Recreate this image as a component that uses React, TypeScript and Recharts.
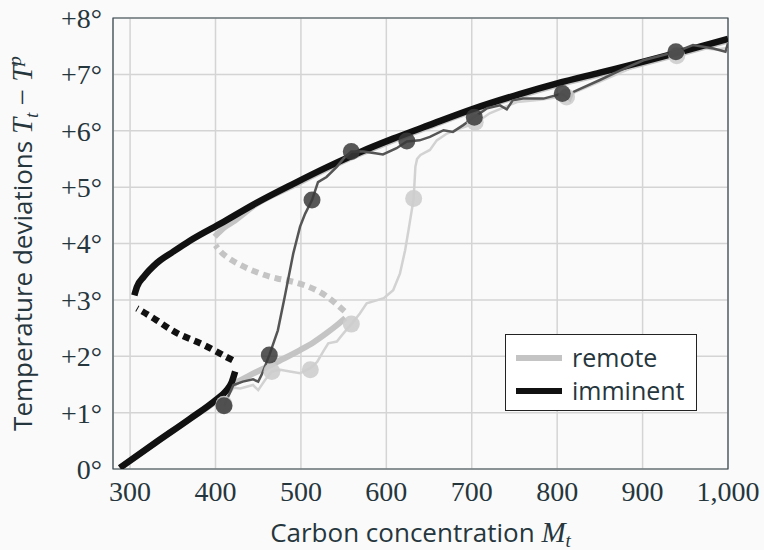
import React from 'react';
import { ComposedChart, Line, XAxis, YAxis, CartesianGrid, ReferenceArea, Legend, Label } from 'recharts';

type Pt = { x: number; y: number };

const ink = '#26363d';
const serif = '"Liberation Serif", serif';
const sans = '"Open Sans", sans-serif';

const xTicks = [300, 400, 500, 600, 700, 800, 900, 1000];
const yTicks = [0, 1, 2, 3, 4, 5, 6, 7, 8];
const legendItems = [
  { label: 'remote', color: '#c4c4c4' },
  { label: 'imminent', color: '#111111' },
];

// equilibrium curves, imminent (black)
const imminentLower: Pt[] = [
  { x: 288, y: 0.02 }, { x: 330, y: 0.47 }, { x: 370, y: 0.89 }, { x: 400, y: 1.22 },
  { x: 412, y: 1.38 }, { x: 419, y: 1.54 }, { x: 423, y: 1.73 },
];
const imminentUnstable: Pt[] = [
  { x: 420, y: 1.93 }, { x: 405, y: 2.05 }, { x: 382, y: 2.23 }, { x: 355, y: 2.41 },
  { x: 331, y: 2.64 }, { x: 308, y: 2.85 },
];
const imminentUpper: Pt[] = [
  { x: 305, y: 3.08 }, { x: 308, y: 3.23 }, { x: 316, y: 3.41 }, { x: 331, y: 3.65 },
  { x: 351, y: 3.86 }, { x: 370, y: 4.05 }, { x: 409, y: 4.38 }, { x: 448, y: 4.72 },
  { x: 490, y: 5.05 }, { x: 530, y: 5.35 }, { x: 569, y: 5.62 }, { x: 608, y: 5.86 },
  { x: 650, y: 6.1 }, { x: 700, y: 6.38 }, { x: 756, y: 6.65 }, { x: 800, y: 6.84 },
  { x: 850, y: 7.03 }, { x: 900, y: 7.22 }, { x: 950, y: 7.42 }, { x: 1000, y: 7.63 },
];

// equilibrium curves, remote (grey)
const remoteLower: Pt[] = [
  { x: 288, y: 0.02 }, { x: 330, y: 0.47 }, { x: 370, y: 0.89 }, { x: 400, y: 1.2 },
  { x: 421, y: 1.5 }, { x: 440, y: 1.66 }, { x: 460, y: 1.81 }, { x: 480, y: 1.96 },
  { x: 499, y: 2.11 }, { x: 515, y: 2.25 }, { x: 530, y: 2.41 }, { x: 542, y: 2.55 },
  { x: 552, y: 2.68 },
];
const remoteUnstable: Pt[] = [
  { x: 551, y: 2.8 }, { x: 522, y: 3.14 }, { x: 491, y: 3.32 }, { x: 472, y: 3.38 },
  { x: 452, y: 3.47 }, { x: 429, y: 3.62 }, { x: 410, y: 3.8 }, { x: 400, y: 3.97 },
];
const remoteUpper: Pt[] = [
  { x: 399, y: 4.12 }, { x: 410, y: 4.28 }, { x: 420, y: 4.38 }, { x: 448, y: 4.7 },
  { x: 490, y: 5.02 }, { x: 530, y: 5.32 }, { x: 569, y: 5.59 }, { x: 608, y: 5.83 },
  { x: 650, y: 6.07 }, { x: 700, y: 6.35 }, { x: 756, y: 6.62 }, { x: 800, y: 6.81 },
  { x: 850, y: 7.0 }, { x: 900, y: 7.19 }, { x: 950, y: 7.39 }, { x: 1000, y: 7.6 },
];

// simulated paths
const imminentPath: Pt[] = [
  { x: 410, y: 1.12 }, { x: 421, y: 1.49 }, { x: 432, y: 1.55 }, { x: 444, y: 1.59 },
  { x: 450, y: 1.55 }, { x: 454, y: 1.67 }, { x: 463, y: 2.02 }, { x: 473, y: 2.46 },
  { x: 481, y: 3.05 }, { x: 491, y: 3.82 }, { x: 499, y: 4.3 }, { x: 505, y: 4.53 },
  { x: 513, y: 4.77 }, { x: 520, y: 5.09 }, { x: 530, y: 5.18 }, { x: 542, y: 5.36 },
  { x: 550, y: 5.51 }, { x: 559, y: 5.63 }, { x: 573, y: 5.63 }, { x: 587, y: 5.6 },
  { x: 596, y: 5.58 }, { x: 612, y: 5.69 }, { x: 624, y: 5.81 }, { x: 639, y: 5.83 },
  { x: 651, y: 5.89 }, { x: 667, y: 6.01 }, { x: 678, y: 5.98 }, { x: 690, y: 6.1 },
  { x: 703, y: 6.24 }, { x: 718, y: 6.4 }, { x: 733, y: 6.45 }, { x: 741, y: 6.38 },
  { x: 748, y: 6.54 }, { x: 760, y: 6.57 }, { x: 784, y: 6.57 }, { x: 806, y: 6.66 },
  { x: 815, y: 6.54 }, { x: 819, y: 6.69 }, { x: 850, y: 6.9 }, { x: 874, y: 7.07 },
  { x: 901, y: 7.25 }, { x: 939, y: 7.4 }, { x: 959, y: 7.52 }, { x: 983, y: 7.46 },
  { x: 997, y: 7.4 }, { x: 1000, y: 7.55 },
];
const imminentDots: Pt[] = [
  { x: 410, y: 1.12 }, { x: 463, y: 2.02 }, { x: 513, y: 4.77 }, { x: 559, y: 5.63 },
  { x: 624, y: 5.82 }, { x: 703, y: 6.24 }, { x: 806, y: 6.66 }, { x: 939, y: 7.4 },
];
const remotePath: Pt[] = [
  { x: 410, y: 1.2 }, { x: 421, y: 1.44 }, { x: 429, y: 1.43 }, { x: 444, y: 1.49 },
  { x: 450, y: 1.4 }, { x: 458, y: 1.58 }, { x: 466, y: 1.73 }, { x: 476, y: 1.76 },
  { x: 487, y: 1.73 }, { x: 499, y: 1.7 }, { x: 511, y: 1.79 }, { x: 519, y: 1.9 },
  { x: 526, y: 2.08 }, { x: 532, y: 2.23 }, { x: 542, y: 2.26 }, { x: 550, y: 2.41 },
  { x: 559, y: 2.57 }, { x: 569, y: 2.76 }, { x: 577, y: 2.94 }, { x: 597, y: 3.03 },
  { x: 608, y: 3.17 }, { x: 616, y: 3.47 }, { x: 622, y: 3.88 }, { x: 626, y: 4.24 },
  { x: 632, y: 4.8 }, { x: 634, y: 5.36 }, { x: 636, y: 5.5 }, { x: 640, y: 5.57 },
  { x: 651, y: 5.66 }, { x: 659, y: 5.83 }, { x: 671, y: 5.95 }, { x: 686, y: 6.04 },
  { x: 704, y: 6.13 }, { x: 721, y: 6.31 }, { x: 753, y: 6.51 }, { x: 780, y: 6.55 },
  { x: 811, y: 6.62 }, { x: 850, y: 6.87 }, { x: 900, y: 7.2 }, { x: 940, y: 7.33 },
  { x: 960, y: 7.48 }, { x: 985, y: 7.44 }, { x: 1000, y: 7.47 },
];
const remoteDots: Pt[] = [
  { x: 410, y: 1.15 }, { x: 466, y: 1.73 }, { x: 511, y: 1.76 }, { x: 559, y: 2.57 },
  { x: 632, y: 4.8 }, { x: 704, y: 6.15 }, { x: 811, y: 6.6 }, { x: 940, y: 7.33 },
];

const fmtX = (v: number) => v.toLocaleString('en-US');
const fmtY = (v: number) => (v > 0 ? '+' : '') + v + '°';

const XLabel = ({ viewBox }: any) => {
  const cx = viewBox.x + viewBox.width / 2;
  return (
    <text x={cx} y={542} textAnchor="middle" fontFamily={sans} fontSize={26} fill={ink}>
      Carbon concentration{' '}
      <tspan fontFamily={serif} fontStyle="italic" fontSize={29}>M</tspan>
      <tspan fontFamily={serif} fontStyle="italic" fontSize={19} dy={5}>t</tspan>
    </text>
  );
};

const YLabel = ({ viewBox }: any) => {
  const cy = viewBox.y + viewBox.height / 2;
  const cx = 32;
  return (
    <text x={cx} y={cy} transform={`rotate(-90 ${cx} ${cy})`} textAnchor="middle" fontFamily={sans} fontSize={26} fill={ink}>
      Temperature deviations{' '}
      <tspan fontFamily={serif} fontStyle="italic" fontSize={29}>T</tspan>
      <tspan fontFamily={serif} fontStyle="italic" fontSize={19} dy={6}>t</tspan>
      <tspan fontFamily={serif} fontSize={29} dy={-6}> − </tspan>
      <tspan fontFamily={serif} fontStyle="italic" fontSize={29}>T</tspan>
      <tspan fontFamily={serif} fontStyle="italic" fontSize={19} dy={-11}>p</tspan>
    </text>
  );
};

const LegendBox = () => (
  <div style={{ border: '1.5px solid #222', background: '#fff', boxSizing: 'border-box', width: 192, height: 77, padding: '6px 0 0 10px' }}>
    {legendItems.map((item) => (
      <div key={item.label} style={{ display: 'flex', alignItems: 'center', height: 33 }}>
        <div style={{ width: 46, height: 6, background: item.color, marginRight: 10 }} />
        <span style={{ fontFamily: sans, fontSize: 25, color: ink, lineHeight: '33px' }}>{item.label}</span>
      </div>
    ))}
  </div>
);

export default function App() {
  return (
    <div style={{ position: 'absolute', left: 0, top: 0, width: 764, height: 550, background: '#fafafa' }}>
      <ComposedChart width={764} height={550} margin={{ top: 18, right: 36, bottom: 0, left: 0 }}>
        <CartesianGrid stroke="#d4d4d4" strokeWidth={1.5} />
        <XAxis
          dataKey="x"
          type="number"
          domain={[280, 1000]}
          ticks={xTicks}
          allowDataOverflow
          height={81}
          tickLine={false}
          axisLine={false}
          tickMargin={6}
          tickFormatter={fmtX}
          tick={{ fontFamily: serif, fontSize: 28, fill: ink }}
        >
          <Label content={XLabel} />
        </XAxis>
        <YAxis
          type="number"
          domain={[0, 8]}
          ticks={yTicks}
          allowDataOverflow
          width={113}
          tickLine={false}
          axisLine={false}
          tickMargin={5}
          tickFormatter={fmtY}
          tick={{ fontFamily: serif, fontSize: 28, fill: ink }}
        >
          <Label content={YLabel} />
        </YAxis>
        <ReferenceArea x1={280} x2={1000} y1={0} y2={8} fill="none" stroke="#37474f" strokeWidth={1.2} />

        <Line data={remoteLower} dataKey="y" type="monotone" stroke="#c4c4c4" strokeWidth={6} dot={false} activeDot={false} isAnimationActive={false} legendType="none" />
        <Line data={remoteUnstable} dataKey="y" type="natural" stroke="#c4c4c4" strokeWidth={6} strokeDasharray="7 5" dot={false} activeDot={false} isAnimationActive={false} legendType="none" />
        <Line data={remoteUpper} dataKey="y" type="monotone" stroke="#c4c4c4" strokeWidth={6} dot={false} activeDot={false} isAnimationActive={false} legendType="none" />

        <Line data={remotePath} dataKey="y" type="linear" stroke="#d2d2d2" strokeWidth={2.5} dot={false} activeDot={false} isAnimationActive={false} legendType="none" />
        <Line data={remoteDots} dataKey="y" stroke="none" dot={{ r: 8.5, fill: '#cdcdcd', fillOpacity: 0.9, stroke: 'none' }} activeDot={false} isAnimationActive={false} legendType="none" />

        <Line data={imminentLower} dataKey="y" type="monotone" stroke="#111" strokeWidth={6.5} dot={false} activeDot={false} isAnimationActive={false} legendType="none" />
        <Line data={imminentUnstable} dataKey="y" type="natural" stroke="#111" strokeWidth={6.5} strokeDasharray="7 5" dot={false} activeDot={false} isAnimationActive={false} legendType="none" />
        <Line data={imminentUpper} dataKey="y" type="monotone" stroke="#111" strokeWidth={6.5} dot={false} activeDot={false} isAnimationActive={false} legendType="none" />

        <Line data={imminentPath} dataKey="y" type="linear" stroke="#555" strokeWidth={2.5} dot={false} activeDot={false} isAnimationActive={false} legendType="none" />
        <Line data={imminentDots} dataKey="y" stroke="none" dot={{ r: 8.5, fill: '#3a3a3a', fillOpacity: 0.85, stroke: 'none' }} activeDot={false} isAnimationActive={false} legendType="none" />

        <Legend
          layout="vertical"
          align="center"
          verticalAlign="middle"
          content={LegendBox}
          wrapperStyle={{ position: 'absolute', left: 505, top: 334, width: 192, height: 77 }}
        />
      </ComposedChart>
    </div>
  );
}
